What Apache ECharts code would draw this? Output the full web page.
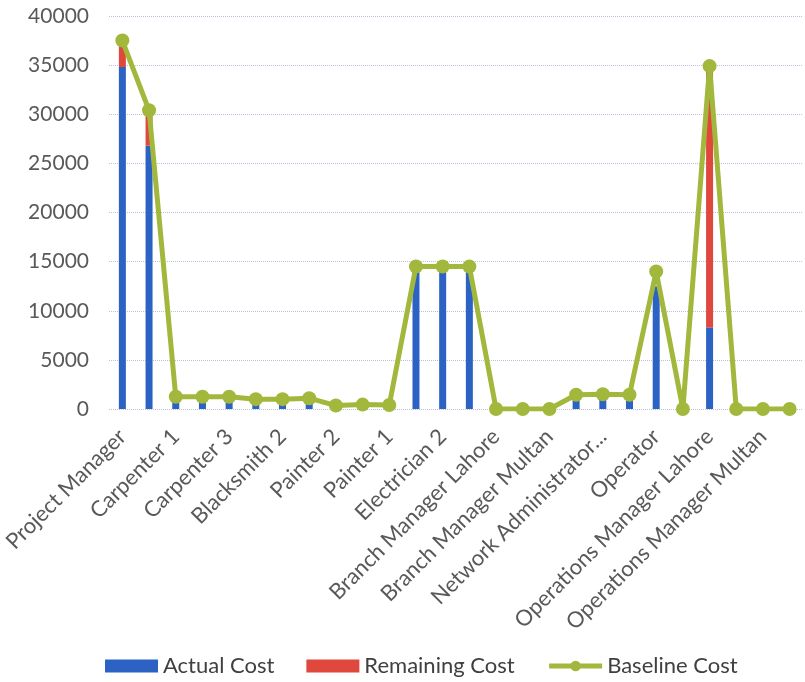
<!DOCTYPE html>
<html>
<head>
<meta charset="utf-8">
<script src="https://cdn.jsdelivr.net/npm/echarts@6/dist/echarts.min.js"></script>
<style>
  html, body { margin: 0; padding: 0; background: #ffffff; }
  #chart { width: 805px; height: 682px; }
</style>
</head>
<body>
<div id="chart"></div>
<script>
// Resource cost breakdown per role
const roles = [
  'Project Manager', 'Site Engineer', 'Carpenter 1', 'Carpenter 2', 'Carpenter 3',
  'Blacksmith 1', 'Blacksmith 2', 'Blacksmith 3', 'Painter 2', 'Painter 3',
  'Painter 1', 'Electrician 1', 'Electrician 2', 'Electrician 3', 'Branch Manager Lahore',
  'Branch Manager Karachi', 'Branch Manager Multan', 'Network Administrator Lahore',
  'Network Administrator Karachi', 'Network Administrator Multan', 'Operator',
  'Operations Manager Karachi', 'Operations Manager Lahore', 'Operations Manager Islamabad',
  'Operations Manager Multan', 'Accountant'
];
const actualCost = [34800, 26800, 1250, 1250, 1250, 1000, 1000, 1100, 350, 450,
  400, 14500, 14500, 14500, 0, 0, 0, 1450, 1500, 1450,
  12500, 0, 8300, 0, 0, 0];
const remainingCost = [2700, 3600, 0, 0, 0, 0, 0, 0, 0, 0,
  0, 0, 0, 0, 0, 0, 0, 0, 0, 0,
  0, 0, 26600, 0, 0, 0];
const baselineCost = [37500, 30400, 1250, 1250, 1250, 1000, 1000, 1100, 350, 450,
  400, 14500, 14500, 14500, 0, 0, 0, 1450, 1500, 1450,
  14000, 0, 34900, 0, 0, 0];
const costTicks = { min: 0, max: 40000, interval: 5000 };

const FONT = 'Lato';
const GREEN = '#a2b83c';
const chart = echarts.init(document.getElementById('chart'), null, { renderer: 'canvas' });

chart.setOption({
  animation: false,
  backgroundColor: '#ffffff',
  grid: { left: 108, right: 2, top: 16, bottom: 273, containLabel: false },
  legend: {
    left: 100,
    top: 650,
    itemWidth: 53,
    itemHeight: 13,
    itemGap: 32,
    textStyle: { fontFamily: FONT, fontSize: 22, color: '#404040' },
    lineStyle: { width: 5 },
    data: [
      { name: 'Actual Cost', icon: 'rect' },
      { name: 'Remaining Cost', icon: 'rect' },
      { name: 'Baseline Cost' }
    ]
  },
  xAxis: {
    type: 'category',
    data: roles,
    axisLine: { show: false },
    axisTick: { show: false },
    axisLabel: {
      interval: 1,
      rotate: 45,
      margin: 24,
      fontFamily: FONT,
      fontSize: 22,
      color: '#595959',
      formatter: v => v.length > 25 ? v.slice(0, 21) + '...' : v
    }
  },
  yAxis: {
    type: 'value',
    min: costTicks.min,
    max: costTicks.max,
    interval: costTicks.interval,
    axisLine: { show: false },
    axisTick: { show: false },
    axisLabel: {
      margin: 20, fontFamily: FONT, fontSize: 21, color: '#595959',
      formatter: v => String(v)
    },
    splitLine: { lineStyle: { color: '#b9c0da', type: 'dotted', width: 1 } }
  },
  series: [
    {
      name: 'Actual Cost',
      type: 'bar',
      stack: 'cost',
      barWidth: 7,
      itemStyle: { color: '#2c62c4' },
      data: actualCost
    },
    {
      name: 'Remaining Cost',
      type: 'bar',
      stack: 'cost',
      barWidth: 7,
      itemStyle: { color: '#e0473d' },
      data: remainingCost
    },
    {
      name: 'Baseline Cost',
      type: 'line',
      symbol: 'circle',
      symbolSize: 14,
      lineStyle: { color: GREEN, width: 5 },
      itemStyle: { color: GREEN },
      data: baselineCost,
      z: 5
    }
  ]
});
</script>
</body>
</html>
